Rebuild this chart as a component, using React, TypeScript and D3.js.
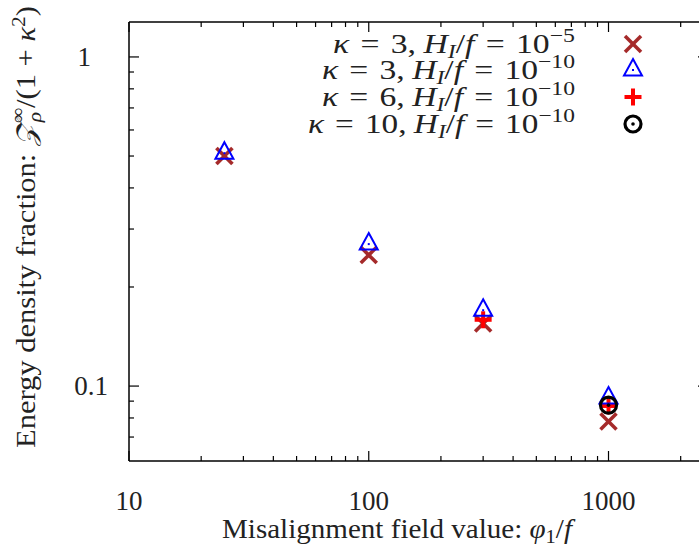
import React from "react";
import * as d3 from "d3";

const xValues = [25, 100, 300, 1000];
const k3h5 = [0.5, 0.25, 0.155, 0.078];
const k3h10 = [0.51, 0.27, 0.17, 0.092];
const k6x = [300, 1000];
const k6h10 = [0.159, 0.087];
const k10x = [1000];
const k10h10 = [0.0875];

const xMajor = [10, 100, 1000];
const xMinor = [20, 30, 40, 50, 60, 70, 80, 90, 200, 300, 400, 500, 600, 700, 800, 900, 2000];
const yMajor = [0.1, 1];
const yMinor = [0.07, 0.08, 0.09, 0.2, 0.3, 0.4, 0.5, 0.6, 0.7, 0.8, 0.9];
const xTickLabels = ["10", "100", "1000"];
const yTickLabels = ["0.1", "1"];

const legendKappa = ["3", "3", "6", "10"];
const legendExp = ["−5", "−10", "−10", "−10"];

const W = 699, H = 547;
const FONT = "'Liberation Serif', serif";
const FS = 27;

export default function App() {
  const x = d3.scaleLog().domain([10, 2600]).range([129, 708]);
  const y = d3.scaleLog().domain([0.0592, 1.277]).range([461, 22]);
  const left = 129, right = 708, top = 22, bottom = 461;

  const brown = "#a52a2a", blue = "#0000ff", red = "#ff0000";

  const cross = (cx: number, cy: number, k: string) => (
    <g key={k} stroke={brown} strokeWidth={3.6} strokeLinecap="butt">
      <line x1={cx - 8} y1={cy - 8} x2={cx + 8} y2={cy + 8} />
      <line x1={cx - 8} y1={cy + 8} x2={cx + 8} y2={cy - 8} />
    </g>
  );
  const tri = (cx: number, cy: number, k: string) => (
    <g key={k}>
      <path d={`M${cx},${cy - 11}L${cx + 9},${cy + 5.5}L${cx - 9},${cy + 5.5}Z`} fill="none" stroke={blue} strokeWidth={2} />
      <rect x={cx - 1} y={cy - 1} width={2} height={2} fill={blue} />
    </g>
  );
  const plus = (cx: number, cy: number, k: string) => (
    <g key={k} stroke={red} strokeWidth={4}>
      <line x1={cx - 8.5} y1={cy} x2={cx + 8.5} y2={cy} />
      <line x1={cx} y1={cy - 8.5} x2={cx} y2={cy + 8.5} />
    </g>
  );
  const circ = (cx: number, cy: number, k: string) => (
    <g key={k}>
      <circle cx={cx} cy={cy} r={8} fill="none" stroke="#000" strokeWidth={3.2} />
      <circle cx={cx} cy={cy} r={1.8} fill="#000" />
    </g>
  );

  const legendRowsY = [44, 70, 97, 124];
  const legendWidths = [242, 253, 253, 267];
  const legendMarkers = [cross, tri, plus, circ];

  return (
    <svg width={W} height={H} style={{ position: "absolute", left: 0, top: 0 }} fontFamily={FONT}>
      <rect x={0} y={0} width={W} height={H} fill="#fff" />
      <g stroke="#000" strokeWidth={1.5} fill="none">
        <line x1={left} y1={top} x2={right} y2={top} />
        <line x1={left} y1={bottom} x2={right} y2={bottom} />
        <line x1={left} y1={top} x2={left} y2={bottom} />
        <line x1={right} y1={top} x2={right} y2={bottom} />
      </g>
      <g stroke="#000" strokeWidth={1.2}>
        {xMajor.map((v) => (
          <g key={"xM" + v}>
            <line x1={x(v)} x2={x(v)} y1={bottom} y2={bottom - 10} />
            <line x1={x(v)} x2={x(v)} y1={top} y2={top + 10} />
          </g>
        ))}
        {xMinor.map((v) => (
          <g key={"xm" + v}>
            <line x1={x(v)} x2={x(v)} y1={bottom} y2={bottom - 5} />
            <line x1={x(v)} x2={x(v)} y1={top} y2={top + 5} />
          </g>
        ))}
        {yMajor.map((v) => (
          <g key={"yM" + v}>
            <line x1={left} x2={left + 10} y1={y(v)} y2={y(v)} />
            <line x1={right} x2={right - 10} y1={y(v)} y2={y(v)} />
          </g>
        ))}
        {yMinor.map((v) => (
          <g key={"ym" + v}>
            <line x1={left} x2={left + 5} y1={y(v)} y2={y(v)} />
            <line x1={right} x2={right - 5} y1={y(v)} y2={y(v)} />
          </g>
        ))}
      </g>
      <g fontSize={FS} fill="#222">
        {xMajor.map((v, i) => (
          <text key={"xl" + v} x={x(v)} y={510} textAnchor="middle">{xTickLabels[i]}</text>
        ))}
        {yMajor.map((v, i) => (
          <text key={"yl" + v} x={v === 1 ? 91 : 108} y={y(v) + 9} textAnchor="end">{yTickLabels[i]}</text>
        ))}
      </g>
      <text x={222} y={538} fontSize={FS} fill="#222" textLength={350} lengthAdjust="spacingAndGlyphs">
        Misalignment field value: <tspan fontStyle="italic">φ</tspan>
        <tspan fontSize={19} dy={5}>1</tspan>
        <tspan dy={-5}>/</tspan><tspan fontStyle="italic">f</tspan>
      </text>
      <text transform="translate(35,448) rotate(-90)" fontSize={FS} fill="#222" textLength={442} lengthAdjust="spacingAndGlyphs">
        Energy density fraction: <tspan fontStyle="italic">𝒵</tspan>
        <tspan fontSize={19} dy={6} fontStyle="italic">ρ</tspan>
        <tspan fontSize={19} dy={-17} dx={-10}>∞</tspan>
        <tspan dy={11}>/(1 + </tspan><tspan fontStyle="italic">κ</tspan>
        <tspan fontSize={19} dy={-10}>2</tspan>
        <tspan dy={10}>)</tspan>
      </text>
      <g>
        {xValues.map((v, i) => cross(x(v), y(k3h5[i]), "c" + i))}
        {k6x.map((v, i) => plus(x(v), y(k6h10[i]), "p" + i))}
        {xValues.map((v, i) => tri(x(v), y(k3h10[i]), "t" + i))}
        {k10x.map((v, i) => circ(x(v), y(k10h10[i]), "o" + i))}
      </g>
      <g fontSize={FS} fill="#222">
        {legendKappa.map((k, i) => (
          <g key={"lg" + i}>
            <text x={575 - legendWidths[i]} y={legendRowsY[i] + 9} textLength={legendWidths[i]} lengthAdjust="spacingAndGlyphs">
              <tspan fontStyle="italic">κ</tspan>
              <tspan dx={9}>=</tspan>
              <tspan dx={9}>{k},</tspan>
              <tspan dx={6} fontStyle="italic">H</tspan>
              <tspan fontSize={19} dy={5} fontStyle="italic">I</tspan>
              <tspan dy={-5}>/</tspan><tspan fontStyle="italic">f</tspan>
              <tspan dx={9}>=</tspan>
              <tspan dx={9}>10</tspan>
              <tspan fontSize={19} dy={-11}>{legendExp[i]}</tspan>
            </text>
            {legendMarkers[i](633, legendRowsY[i], "lm" + i)}
          </g>
        ))}
      </g>
    </svg>
  );
}
